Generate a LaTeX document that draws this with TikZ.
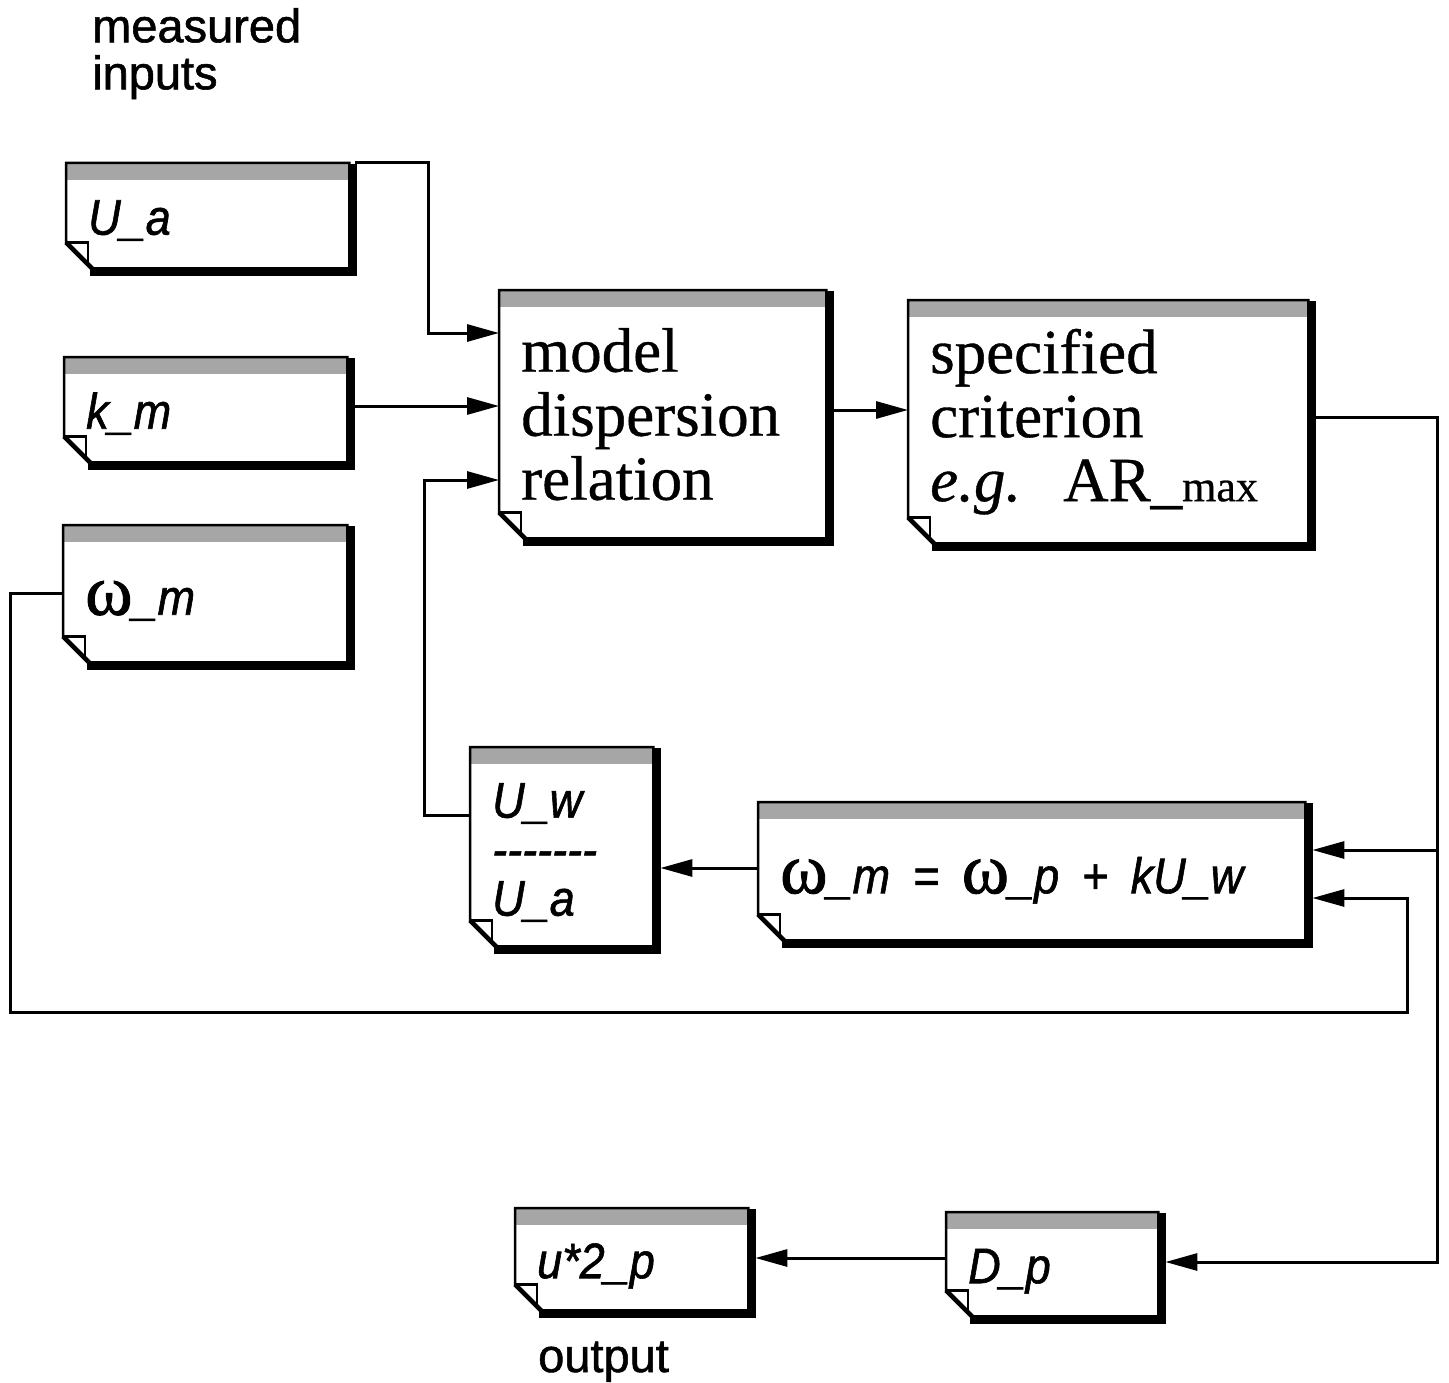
\documentclass[tikz,border=0pt]{standalone}
\usepackage{fontspec}
\setmainfont{Liberation Serif}[FakeBold=0.6]
\setsansfont{Liberation Sans}[FakeBold=1.2]
\newfontfamily\boxsans[FakeStretch=0.9,FakeBold=1.2]{Liberation Sans}
\newfontfamily\omfont[FakeBold=1.2]{Liberation Serif}
\usetikzlibrary{arrows.meta}
\newcommand\omg{{\omfont\upshape\fontsize{72}{49}\selectfont ω}}
\newcommand\dsh{-\kern0pt}
\begin{document}
\begin{tikzpicture}[x=1pt,y=-1pt,
  docbox/.style={rectangle, inner xsep=22pt, inner ysep=0pt, anchor=north west, align=left},
  sanstxt/.style={font=\fontsize{50}{49}\selectfont\boxsans\itshape},
  oneline/.style={text height=48pt, text depth=10pt},
  seriftxt/.style={font=\fontsize{63}{64}\selectfont\rmfamily},
  conn/.style={line width=3pt},
  arr/.style={conn, -{Triangle[length=32pt,width=17pt]}},
  lbl/.style={font=\fontsize{47}{47}\selectfont\sffamily, inner sep=0pt, align=left}]
\useasboundingbox (0,0) rectangle (1449,1383);

% labels
\node (lab1) [lbl, anchor=north west] at (92,8) {measured\\inputs};
\node (lab2) [lbl, anchor=base west] at (538,1372) {output};

% boxes
\node (ua) [docbox, sanstxt, oneline, text width=239pt, minimum height=105pt] at (66,163) {U\_a};
\node (km) [docbox, sanstxt, oneline, text width=239pt, minimum height=105pt] at (64,357) {k\_m};
\node (wm) [docbox, sanstxt, oneline, text height=52pt, text width=240pt, minimum height=137pt] at (63,525) {\omg\_m};
\node (model) [docbox, seriftxt, text width=283pt, minimum height=248pt] at (499,290) {model\\dispersion\\relation};
\node (spec) [docbox, seriftxt, text width=356pt, minimum height=243pt] at (908,300) {specified\\criterion\\\textit{e.g.}\ \ AR\_{\fontsize{44}{44}\selectfont max}};
\node (uw) [docbox, sanstxt, text width=139pt, minimum height=199pt] at (470,747) {\rule{0pt}{46pt}U\_w\\\dsh\dsh\dsh\dsh\dsh\dsh\dsh\\U\_a};
\node (eq) [docbox, sanstxt, oneline, text height=54pt, text width=503pt, minimum height=138pt] at (758,802) {\omg\_m\hspace{6pt} = \hspace{6pt}\omg\_p\hspace{6pt} + \hspace{6pt}kU\_w};
\node (u2p) [docbox, sanstxt, oneline, text width=189pt, minimum height=102pt] at (515,1208) {u*2\_p};
\node (dp) [docbox, sanstxt, oneline, text width=168pt, minimum height=104pt] at (946,1212) {D\_p};

% box decorations
\foreach \n in {ua,km,wm,model,spec,uw,eq,u2p,dp}{
  \fill[gray!70] (\n.north west) rectangle ([yshift=-17pt]\n.north east);
  \draw[line width=8pt] ([xshift=4pt,yshift=-1pt]\n.north east) -- ([xshift=4pt,yshift=-4pt]\n.south east) -- ([xshift=24pt,yshift=-4pt]\n.south west);
  \draw[line width=2.5pt, line join=miter] (\n.north west) -- (\n.north east) -- (\n.south east) -- ([xshift=26pt]\n.south west) -- ([yshift=26pt]\n.south west) -- cycle;
  \draw[line width=4.5pt] ([xshift=27pt,yshift=-1pt]\n.south west) -- ([yshift=26pt]\n.south west);
  \draw[line width=2.5pt] ([yshift=26pt]\n.south west) -- ([xshift=22pt,yshift=26pt]\n.south west) -- ([xshift=22pt,yshift=4pt]\n.south west);
}

% connectors
\coordinate (j) at (1437,850);
\draw[arr, shorten <=6pt] (ua.north east) -- (428,163) -- (428,333) -- (model.west |- 0,333);
\draw[arr, shorten <=7pt] (km.east |- 0,406) -- (model.west |- 0,406);
\draw[arr] (uw.west |- 0,815) -- (424,815) -- (424,480) -- (model.west |- 0,480);
\draw[arr, shorten <=7pt] (model.east |- 0,410) -- (spec.west |- 0,410);
\draw[arr, shorten <=7pt, shorten >=7pt] (spec.east |- 0,417) -- (1437,417) -- (1437,1262) -- (dp.east |- 0,1262);
\draw[arr, shorten >=7pt] (j) -- (eq.east |- 0,850);
\draw[arr, shorten >=7pt] (wm.west |- 0,593) -- (10,593) -- (10,1012) -- (1407,1012) -- (1407,898) -- (eq.east |- 0,898);
\draw[arr, shorten >=7pt] (eq.west |- 0,868) -- (uw.east |- 0,868);
\draw[arr, shorten >=7pt] (dp.west |- 0,1258) -- (u2p.east |- 0,1258);
\end{tikzpicture}
\end{document}
